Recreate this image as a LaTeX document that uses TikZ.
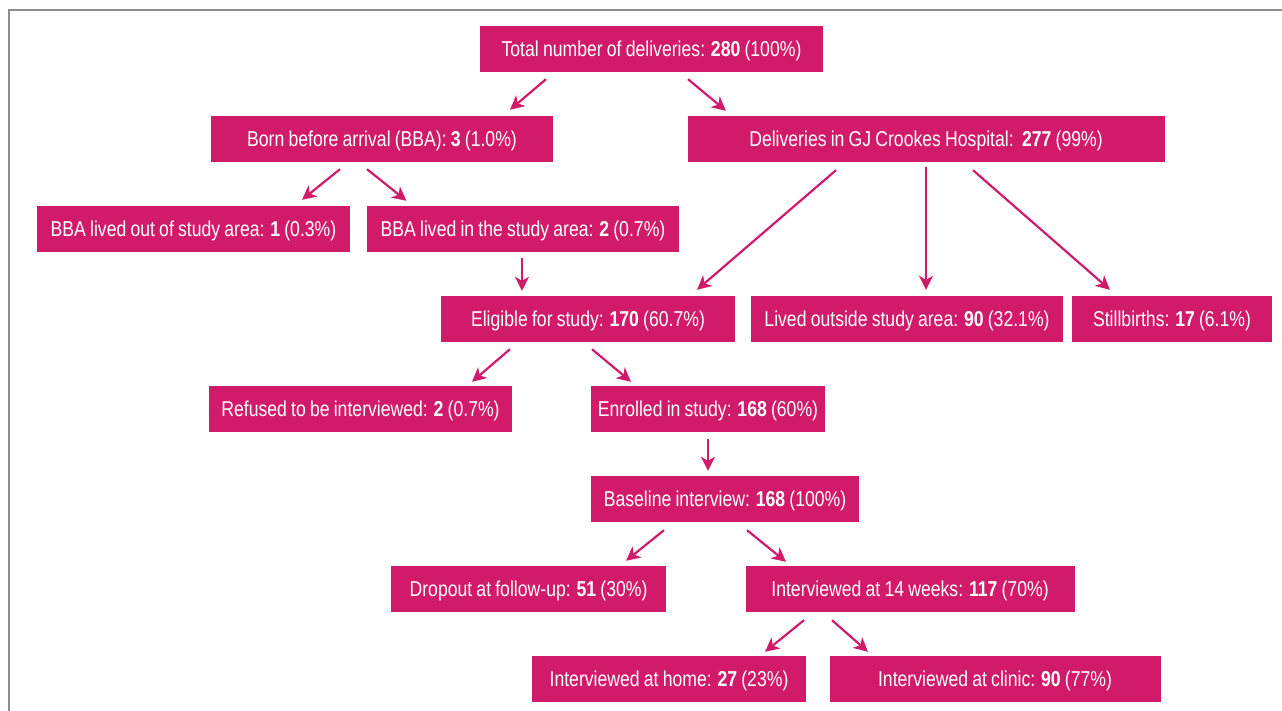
\documentclass[tikz,border=0pt]{standalone}
\usepackage{fontspec}
\setmainfont[FakeStretch=0.82,WordSpace=0.85]{Liberation Sans}
\usetikzlibrary{arrows.meta,calc}
\definecolor{mag}{RGB}{210,26,106}
\definecolor{frame}{RGB}{140,140,140}
\tikzset{
  box/.style={fill=mag, text=white, inner sep=0pt, minimum height=46pt,
    text height=15.4pt, text depth=0pt,
    font=\fontsize{21.5pt}{25pt}\selectfont, anchor=center},
  arr/.style={draw=mag, line width=2.2pt,
    -{Stealth[length=14pt,width=14pt,inset=4pt]}},
}
\begin{document}
\begin{tikzpicture}[x=1pt,y=-1pt]
\useasboundingbox (0,0) rectangle (1282,711);
\draw[frame, line width=1.5pt] (9,711) -- (9,10) -- (1282,10);

\node[box, minimum width=343pt] (tot) at (651.5,49) {Total number of deliveries: \textbf{280} (100\%)};
\node[box, minimum width=342pt] (bba) at (382,139) {Born before arrival (BBA): \textbf{3} (1.0\%)};
\node[box, minimum width=477pt] (gj) at (926,139) {Deliveries in GJ Crookes Hospital:\ \ \textbf{277} (99\%)};
\node[box, minimum width=313pt] (bout) at (193.5,229) {BBA lived out of study area: \textbf{1} (0.3\%)};
\node[box, minimum width=312pt] (bin) at (523,229) {BBA lived in the study area: \textbf{2} (0.7\%)};
\node[box, minimum width=294pt] (elig) at (588,319) {Eligible for study: \textbf{170} (60.7\%)};
\node[box, minimum width=312pt] (lived) at (907,319) {Lived outside study area: \textbf{90} (32.1\%)};
\node[box, minimum width=200pt] (still) at (1172,319) {Stillbirths: \textbf{17} (6.1\%)};
\node[box, minimum width=303pt] (ref) at (360.5,409) {Refused to be interviewed: \textbf{2} (0.7\%)};
\node[box, minimum width=234pt] (enr) at (708,409) {Enrolled in study: \textbf{168} (60\%)};
\node[box, minimum width=268pt] (base) at (725,499) {Baseline interview: \textbf{168} (100\%)};
\node[box, minimum width=275pt] (drop) at (528.5,589) {Dropout at follow-up: \textbf{51} (30\%)};
\node[box, minimum width=329pt] (wk) at (910,589) {Interviewed at 14 weeks: \textbf{117} (70\%)};
\node[box, minimum width=274pt] (home) at (669,679) {Interviewed at home: \textbf{27} (23\%)};
\node[box, minimum width=331pt] (clin) at (995,679) {Interviewed at clinic: \textbf{90} (77\%)};

\draw[arr] ([shift={(-105.5,7)}]tot.south) -- ([shift={(128,-6)}]bba.north);
\draw[arr] ([shift={(36.5,7)}]tot.south) -- ([shift={(-200,-5)}]gj.north);
\draw[arr] ([shift={(-42,7)}]bba.south) -- ([shift={(108.5,-6)}]bout.north);
\draw[arr] ([shift={(-15,7)}]bba.south) -- ([shift={(-116.5,-5)}]bin.north);
\draw[arr] ([shift={(-90,8)}]gj.south) -- ([shift={(109,-6)}]elig.north);
\draw[arr] ([shift={(0,5)}]gj.south) -- ([shift={(19,-6)}]lived.north);
\draw[arr] ([shift={(47,8)}]gj.south) -- ([shift={(-62,-6)}]still.north);
\draw[arr] ([shift={(-1,6)}]bin.south) -- ([shift={(-66,-5)}]elig.north);
\draw[arr] ([shift={(-78,7)}]elig.south) -- ([shift={(111.5,-4)}]ref.north);
\draw[arr] ([shift={(4,7)}]elig.south) -- ([shift={(-77,-4)}]enr.north);
\draw[arr] ([shift={(0,7)}]enr.south) -- ([shift={(-17,-5)}]base.north);
\draw[arr] ([shift={(-61,8)}]base.south) -- ([shift={(97.5,-5)}]drop.north);
\draw[arr] ([shift={(22,8)}]base.south) -- ([shift={(-124,-4)}]wk.north);
\draw[arr] ([shift={(-106,8)}]wk.south) -- ([shift={(96,-4)}]home.north);
\draw[arr] ([shift={(-78,8)}]wk.south) -- ([shift={(-127,-4)}]clin.north);
\end{tikzpicture}
\end{document}
